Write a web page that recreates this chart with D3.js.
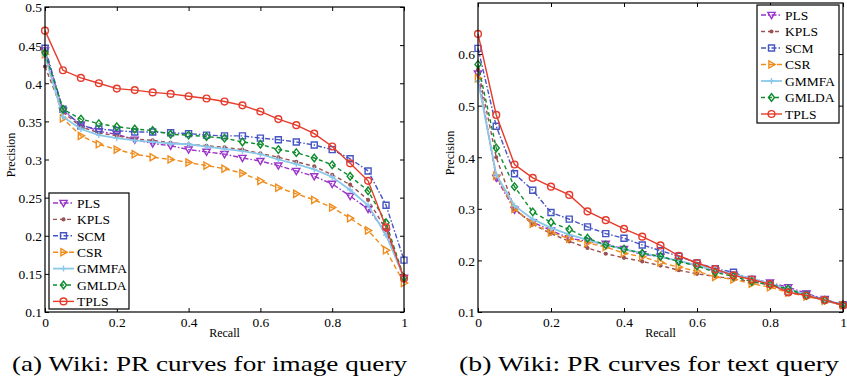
<!DOCTYPE html>
<html>
<head>
<meta charset="utf-8">
<script src="https://cdn.jsdelivr.net/npm/d3@7"></script>
<style>
  body { margin: 0; background: #fff; }
  svg { display: block; }
</style>
</head>
<body>
<svg id="chart" width="847" height="382" font-family="Liberation Serif, Times New Roman, serif"></svg>
<script>
// recall levels shared by both panels
const recall = [0, 0.05, 0.1, 0.15, 0.2, 0.25, 0.3, 0.35, 0.4, 0.45, 0.5,
                0.55, 0.6, 0.65, 0.7, 0.75, 0.8, 0.85, 0.9, 0.95, 1];

const methods = ["PLS", "KPLS", "SCM", "CSR", "GMMFA", "GMLDA", "TPLS"];

// (a) image query
const imgPLS   = [0.443,0.364,0.346,0.337,0.333,0.326,0.321,0.318,0.313,0.310,0.307,0.302,0.298,0.292,0.285,0.278,0.268,0.252,0.235,0.205,0.145];
const imgKPLS  = [0.422,0.362,0.343,0.335,0.331,0.327,0.325,0.322,0.320,0.318,0.316,0.313,0.308,0.303,0.297,0.291,0.280,0.267,0.247,0.208,0.143];
const imgSCM   = [0.446,0.366,0.344,0.340,0.338,0.336,0.336,0.335,0.334,0.332,0.331,0.331,0.328,0.326,0.323,0.319,0.313,0.301,0.285,0.240,0.168];
const imgCSR   = [0.438,0.354,0.331,0.320,0.313,0.307,0.303,0.300,0.296,0.292,0.288,0.282,0.272,0.263,0.255,0.247,0.237,0.223,0.207,0.181,0.138];
const imgGMMFA = [0.436,0.356,0.340,0.332,0.328,0.325,0.323,0.321,0.320,0.317,0.314,0.311,0.307,0.300,0.294,0.287,0.277,0.260,0.240,0.201,0.145];
const imgGMLDA = [0.440,0.366,0.353,0.347,0.343,0.340,0.338,0.333,0.332,0.330,0.328,0.323,0.320,0.313,0.309,0.302,0.293,0.278,0.259,0.217,0.145];
const imgTPLS  = [0.469,0.417,0.407,0.400,0.393,0.391,0.388,0.386,0.383,0.380,0.376,0.371,0.363,0.353,0.345,0.334,0.317,0.295,0.272,0.211,0.144];

// (b) text query
const txtPLS   = [0.562,0.360,0.298,0.274,0.258,0.243,0.237,0.232,0.222,0.212,0.207,0.199,0.190,0.180,0.172,0.164,0.157,0.148,0.136,0.125,0.114];
const txtKPLS  = [0.570,0.400,0.300,0.270,0.252,0.237,0.224,0.213,0.205,0.198,0.190,0.181,0.174,0.169,0.164,0.159,0.152,0.142,0.132,0.122,0.113];
const txtSCM   = [0.611,0.460,0.368,0.336,0.293,0.280,0.265,0.252,0.243,0.230,0.219,0.208,0.195,0.184,0.177,0.163,0.154,0.140,0.134,0.124,0.114];
const txtCSR   = [0.553,0.364,0.300,0.271,0.254,0.242,0.234,0.226,0.214,0.207,0.196,0.187,0.179,0.168,0.163,0.155,0.148,0.138,0.130,0.122,0.113];
const txtGMMFA = [0.548,0.366,0.306,0.280,0.263,0.250,0.240,0.230,0.222,0.214,0.207,0.199,0.191,0.182,0.173,0.165,0.155,0.145,0.133,0.123,0.114];
const txtGMLDA = [0.580,0.418,0.343,0.294,0.274,0.260,0.243,0.230,0.222,0.214,0.208,0.198,0.189,0.177,0.169,0.159,0.153,0.145,0.132,0.123,0.114];
const txtTPLS  = [0.639,0.482,0.386,0.360,0.343,0.327,0.295,0.278,0.261,0.246,0.229,0.209,0.195,0.183,0.171,0.163,0.154,0.138,0.132,0.123,0.113];

const xTicks = [0, 0.2, 0.4, 0.6, 0.8, 1];
const yTicksA = [0.1, 0.15, 0.2, 0.25, 0.3, 0.35, 0.4, 0.45, 0.5];
const yTicksB = [0.1, 0.2, 0.3, 0.4, 0.5, 0.6];

// look of each method
const style = {
  PLS:   { color: "#9b34c9", dash: "5,2,1.5,2", marker: "tridown" },
  KPLS:  { color: "#9a5252", dash: "4,3",       marker: "dot" },
  SCM:   { color: "#4655c2", dash: "5,2,1.5,2", marker: "square" },
  CSR:   { color: "#f08c1c", dash: "5,3",       marker: "triright" },
  GMMFA: { color: "#8ac8ea", dash: null,        marker: "plus" },
  GMLDA: { color: "#0d8c2c", dash: "4,3",       marker: "diamond" },
  TPLS:  { color: "#e63a2a", dash: null,        marker: "circle" }
};

const svg = d3.select("#chart");

function markerPath(kind) {
  switch (kind) {
    case "tridown":  return "M-3.6,-2.6L3.6,-2.6L0,3.6Z";
    case "triright": return "M-2.6,-3.6L3.6,0L-2.6,3.6Z";
    case "square":   return "M-3,-3H3V3H-3Z";
    case "diamond":  return "M0,-3.8L3,0L0,3.8L-3,0Z";
    case "plus":     return "M-3,0H3M0,-3V3";
    case "dot":      return d3.symbol(d3.symbolCircle, 6)();
    default:         return d3.symbol(d3.symbolCircle, 36)();
  }
}

function drawMarker(g, kind, color, x, y) {
  const filled = kind === "dot";
  g.append("path")
    .attr("d", markerPath(kind))
    .attr("transform", "translate(" + x + "," + y + ")")
    .attr("fill", filled ? color : "none")
    .attr("stroke", color)
    .attr("stroke-width", 1.4);
}

function panel(opt) {
  const x = d3.scaleLinear().domain([0, 1]).range([opt.left, opt.right]);
  const y = d3.scaleLinear().domain(opt.yDomain).range([opt.bottom, opt.top]);
  const g = svg.append("g");
  const fmt = d => String(+d.toFixed(2));

  // ticks on all four sides, pointing inward
  const axB = g.append("g").attr("transform", "translate(0," + opt.bottom + ")")
    .call(d3.axisBottom(x).tickValues(xTicks).tickSize(-4).tickPadding(5).tickFormat(fmt));
  const axT = g.append("g").attr("transform", "translate(0," + opt.top + ")")
    .call(d3.axisTop(x).tickValues(xTicks).tickSize(-4).tickFormat(""));
  const axL = g.append("g").attr("transform", "translate(" + opt.left + ",0)")
    .call(d3.axisLeft(y).tickValues(opt.yTicks).tickSize(-4).tickPadding(3).tickFormat(fmt));
  const axR = g.append("g").attr("transform", "translate(" + opt.right + ",0)")
    .call(d3.axisRight(y).tickValues(opt.yTicks).tickSize(-4).tickFormat(""));
  [axB, axT, axL, axR].forEach(a => {
    a.attr("font-family", null);
    a.select(".domain").remove();
    a.selectAll("line").attr("stroke", "#000");
    a.selectAll("text").attr("font-size", 13.5).attr("fill", "#000");
  });
  axL.selectAll("text").attr("dy", "0.36em");

  // curves
  opt.series.forEach((vals, i) => {
    const st = style[methods[i]];
    const pts = vals.map((v, j) => [recall[j], v]);
    g.append("path")
      .datum(pts)
      .attr("fill", "none")
      .attr("stroke", st.color)
      .attr("stroke-width", st.marker === "plus" ? 1.8 : 1.4)
      .attr("stroke-dasharray", st.dash)
      .attr("d", d3.line().x(d => x(d[0])).y(d => y(d[1])));
    pts.forEach(p => drawMarker(g, st.marker, st.color, x(p[0]), y(p[1])));
  });

  // frame
  g.append("rect")
    .attr("x", opt.left).attr("y", opt.top)
    .attr("width", opt.right - opt.left).attr("height", opt.bottom - opt.top)
    .attr("fill", "none").attr("stroke", "#000").attr("stroke-width", 1.2);

  // axis titles
  g.append("text")
    .attr("x", (opt.left + opt.right) / 2).attr("y", opt.bottom + 25)
    .attr("text-anchor", "middle").attr("font-size", 12)
    .text("Recall");
  g.append("text")
    .attr("transform", "translate(" + opt.ylabX + "," + opt.ylabY + ") rotate(-90)")
    .attr("text-anchor", "middle").attr("dy", "0.35em").attr("font-size", 12)
    .text("Precision");

  // legend
  const L = opt.legend;
  g.append("rect")
    .attr("x", L.x).attr("y", L.y).attr("width", L.w).attr("height", L.h)
    .attr("fill", "#fff").attr("stroke", "#000").attr("stroke-width", 1.2);
  methods.forEach((m, i) => {
    const st = style[m];
    const yy = L.y + 10 + i * L.step;
    g.append("line")
      .attr("x1", L.x + 4).attr("x2", L.x + 25).attr("y1", yy).attr("y2", yy)
      .attr("stroke", st.color).attr("stroke-width", st.marker === "plus" ? 1.8 : 1.4)
      .attr("stroke-dasharray", st.dash);
    drawMarker(g, st.marker, st.color, L.x + 14.5, yy);
    g.append("text")
      .attr("x", L.x + 28).attr("y", yy).attr("dy", "0.35em")
      .attr("font-size", 13.5).text(m);
  });

  // caption
  g.append("text")
    .attr("x", opt.capX).attr("y", 371)
    .attr("font-size", 21)
    .attr("textLength", opt.capW).attr("lengthAdjust", "spacingAndGlyphs")
    .text(opt.caption);
}

panel({
  left: 45, right: 404, top: 7, bottom: 312,
  yDomain: [0.1, 0.5], yTicks: yTicksA,
  series: [imgPLS, imgKPLS, imgSCM, imgCSR, imgGMMFA, imgGMLDA, imgTPLS],
  ylabX: 11, ylabY: 155,
  legend: { x: 49, y: 193, w: 80, h: 116, step: 16.4 },
  caption: "(a) Wiki: PR curves for image query", capX: 12, capW: 395
});

panel({
  left: 478, right: 843, top: 3, bottom: 312,
  yDomain: [0.1, 0.699], yTicks: yTicksB,
  series: [txtPLS, txtKPLS, txtSCM, txtCSR, txtGMMFA, txtGMLDA, txtTPLS],
  ylabX: 450, ylabY: 153,
  legend: { x: 757, y: 5, w: 82, h: 118, step: 16.5 },
  caption: "(b) Wiki: PR curves for text query", capX: 459, capW: 380
});
</script>
</body>
</html>
